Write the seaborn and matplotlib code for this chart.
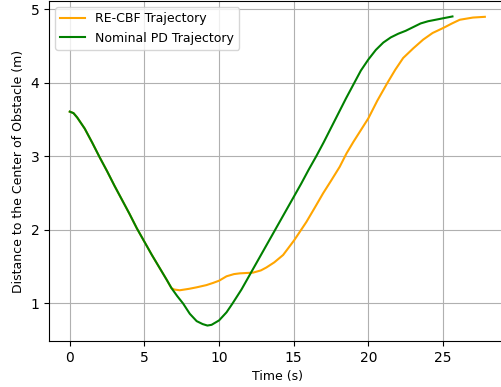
import pandas as pd
import matplotlib
matplotlib.use('Agg')
import matplotlib.pyplot as plt
import seaborn as sns

# RE-CBF trajectory, distance to obstacle centre over time
cbf_time = [0, 0.25, 0.5, 1, 1.5, 2, 2.5, 3, 3.5, 4, 4.5, 5, 5.5, 6, 6.5, 6.81,
            7.0, 7.37, 8, 8.5, 9.15, 9.6, 10, 10.5, 11, 11.39, 12.28, 12.8, 13.17,
            13.7, 14.29, 15.03, 15.85, 16.4, 16.97, 17.5, 18.08, 18.53, 19, 19.5,
            20, 20.6, 21.27, 21.8, 22.33, 23, 23.67, 24.3, 25.03, 25.6, 26.12, 27,
            27.8]
cbf_dist = [3.61, 3.59, 3.53, 3.38, 3.19, 2.99, 2.80, 2.60, 2.41, 2.22, 2.02, 1.84,
            1.66, 1.49, 1.32, 1.21, 1.19, 1.18, 1.20, 1.22, 1.25, 1.28, 1.31, 1.37,
            1.40, 1.41, 1.42, 1.45, 1.49, 1.56, 1.66, 1.86, 2.11, 2.30, 2.50, 2.67,
            2.86, 3.04, 3.20, 3.36, 3.52, 3.76, 4.00, 4.18, 4.34, 4.47, 4.59, 4.68,
            4.75, 4.81, 4.86, 4.89, 4.90]

# Nominal PD trajectory
pd_time = [0, 0.25, 0.5, 1, 1.5, 2, 2.5, 3, 3.5, 4, 4.5, 5, 5.5, 6, 6.5, 6.81,
           7.2, 7.59, 8.04, 8.5, 8.9, 9.22, 9.5, 10, 10.5, 10.9, 11.5, 12, 12.5,
           13, 13.5, 14, 14.5, 15, 15.5, 16, 16.5, 17, 17.5, 18, 18.5, 19, 19.5,
           20, 20.5, 21, 21.5, 22, 22.5, 23, 23.5, 24, 24.5, 25, 25.63]
pd_dist = [3.61, 3.59, 3.53, 3.38, 3.19, 2.99, 2.80, 2.60, 2.41, 2.22, 2.02, 1.84,
           1.66, 1.49, 1.32, 1.21, 1.10, 1.00, 0.86, 0.76, 0.72, 0.70, 0.71, 0.77,
           0.88, 1.00, 1.19, 1.37, 1.55, 1.73, 1.91, 2.09, 2.27, 2.45, 2.63, 2.82,
           3.00, 3.19, 3.39, 3.59, 3.79, 3.98, 4.17, 4.32, 4.45, 4.55, 4.62, 4.67,
           4.71, 4.76, 4.81, 4.84, 4.86, 4.88, 4.905]

cbf_df = pd.DataFrame({'time': cbf_time, 'dist': cbf_dist})
pd_df = pd.DataFrame({'time': pd_time, 'dist': pd_dist})

# labels and legend a touch smaller than the tick numbers, as in the original
plt.rcParams['font.size'] = 9
plt.rcParams['xtick.labelsize'] = 10
plt.rcParams['ytick.labelsize'] = 10

fig = plt.figure(figsize=(5.02, 3.87), dpi=100)
# the original figure was cropped on the right, so the axes run past the edge
ax = fig.add_axes([49 / 502, 46 / 387, 456.6 / 502, 340 / 387])

sns.lineplot(data=cbf_df, x='time', y='dist', color='orange',
             label='RE-CBF Trajectory', ax=ax)
sns.lineplot(data=pd_df, x='time', y='dist', color='green',
             label='Nominal PD Trajectory', ax=ax)

ax.set_xlabel('Time (s)')
ax.set_ylabel('Distance to the Center of Obstacle (m)')
ax.set_xticks([0, 5, 10, 15, 20, 25])
ax.set_yticks([1, 2, 3, 4, 5])
ax.grid(True)
ax.legend(loc='upper left')

plt.savefig('out.png', dpi=100)
